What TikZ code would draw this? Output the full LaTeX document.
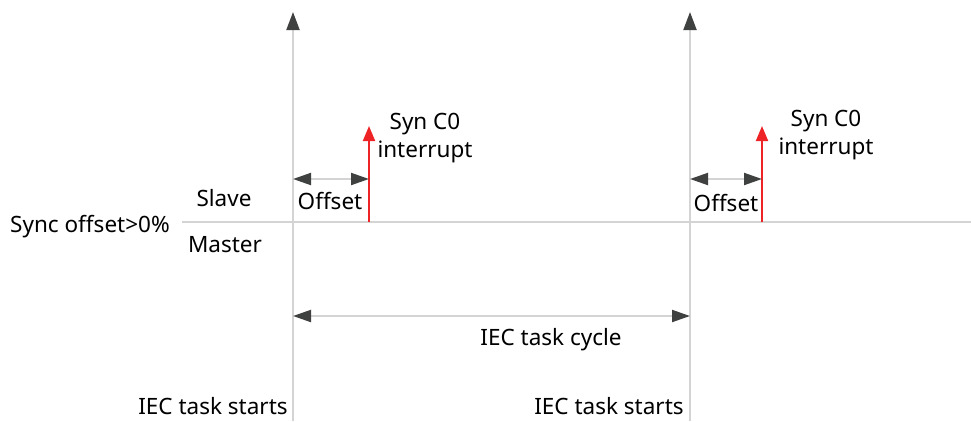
\documentclass[tikz,border=0pt]{standalone}
\usepackage{fontspec}
\setmainfont{Noto Sans}
\usetikzlibrary{arrows.meta}
\definecolor{linegray}{HTML}{D4D4D4}
\definecolor{tipgray}{HTML}{3F4040}
\definecolor{synred}{HTML}{EE2326}

\begin{document}
\begin{tikzpicture}[
    x=1pt, y=-1pt,
    every node/.style={font=\fontsize{22.5}{28}\selectfont, inner sep=0pt},
    axisline/.style={draw=linegray, line width=2pt},
    timeline/.style={axisline, -{Triangle[length=18pt, width=13pt, color=tipgray]}},
    span/.style={axisline, {Triangle[length=18pt, width=12pt, color=tipgray]}-{Triangle[length=18pt, width=12pt, color=tipgray]}},
    irq/.style={draw=synred, line width=2pt, -{Triangle[length=15pt, width=12pt]}},
    lbl/.style={align=center},
]
\useasboundingbox (0,0) rectangle (971,421);

% === Time axes ===
\coordinate (startA) at (293,421);
\coordinate (topA) at (293,12);
\coordinate (startB) at (690,421);
\coordinate (topB) at (690,12);
\coordinate (lineL) at (182,222);
\coordinate (lineR) at (971,222);

\draw[axisline] (lineL) -- (lineR);
\draw[timeline] (startA) -- (topA);
\draw[timeline] (startB) -- (topB);

% === Sync interrupts ===
\coordinate (irqA) at (369,222);
\coordinate (irqAtop) at (369,126);
\coordinate (irqB) at (762,222);
\coordinate (irqBtop) at (762,126);

\draw[irq] (irqA) -- (irqAtop);
\draw[irq] (irqB) -- (irqBtop);

% === Offsets ===
\coordinate (offA1) at (293,179);
\coordinate (offA2) at (369,179);
\coordinate (offB1) at (690,179);
\coordinate (offB2) at (762,179);

\draw[span] (offA1) -- (offA2);
\draw[span] (offB1) -- (offB2);

% === IEC task cycle ===
\coordinate (cycA) at (293,316);
\coordinate (cycB) at (690,316);
\draw[span] (cycA) -- (cycB);

% === Labels ===
\node (sync) at (90,227) {Sync offset>0\%};
\node (slave) at (224,198) {Slave};
\node (master) at (225,245) {Master};
\node (offsetA) at (330,201) {Offset};
\node (offsetB) at (726,203) {Offset};
\node[lbl] (synA) at (425,138) {Syn C0\\interrupt};
\node[lbl] (synB) at (826,135) {Syn C0\\interrupt};
\node (cycle) at (551,340) {IEC task cycle};
\node (startsA) at (213,406) {IEC task starts};
\node (startsB) at (609,406) {IEC task starts};

\end{tikzpicture}
\end{document}
